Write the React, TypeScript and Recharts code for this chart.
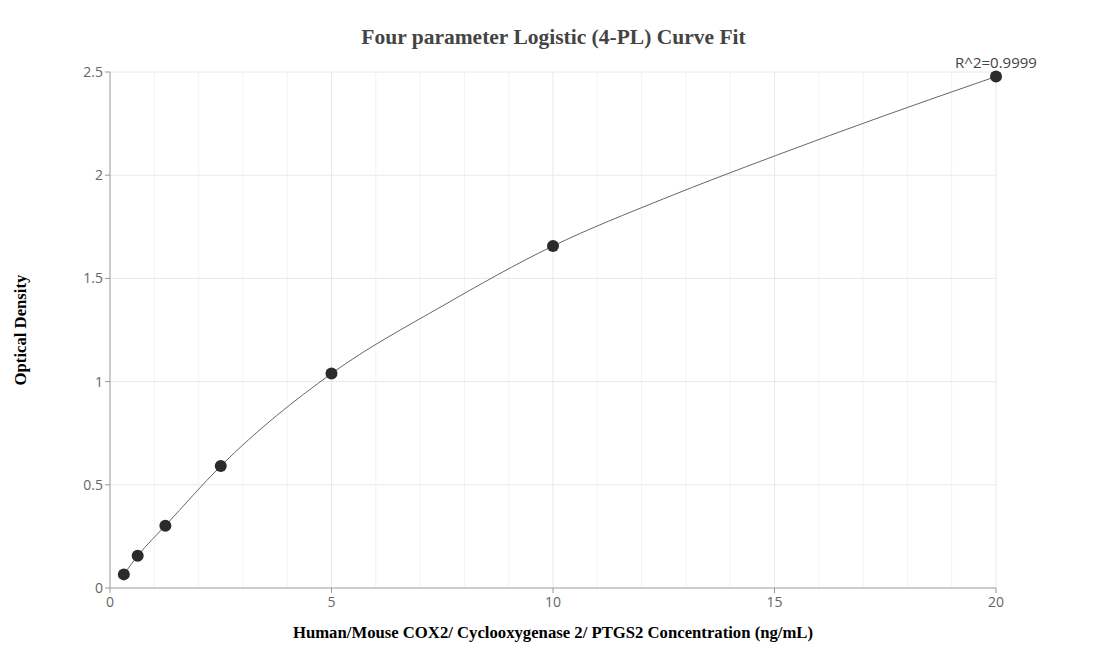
import React from 'react';
import {
  ComposedChart,
  Line,
  Scatter,
  XAxis,
  YAxis,
  ReferenceLine,
  ReferenceDot,
  Label,
} from 'recharts';

// measured standards
const concentrations = [0.3125, 0.625, 1.25, 2.5, 5, 10, 20];
const densities = [0.066, 0.156, 0.302, 0.591, 1.039, 1.657, 2.478];
// fitted curve
const fitX = [0.3125, 0.625, 1.25, 2.5, 5, 7.5, 10, 12.5, 15, 17.5, 20];
const fitY = [0.066, 0.156, 0.302, 0.591, 1.039, 1.366, 1.657, 1.886, 2.093, 2.29, 2.478];
const xTicks = [0, 5, 10, 15, 20];
const yTicks = [0, 0.5, 1, 1.5, 2, 2.5];
const minorX = [1, 2, 3, 4, 6, 7, 8, 9, 11, 12, 13, 14, 16, 17, 18, 19];
const rSquared = 'R^2=0.9999';

const points = concentrations.map((c, i) => ({ x: c, y: densities[i] }));
const curve = fitX.map((c, i) => ({ x: c, y: fitY[i] }));

const tickStyle = { fontFamily: 'Open Sans', fontSize: 14, fill: '#666' };
const axisTitle = {
  fontFamily: 'Liberation Serif',
  fontWeight: 'bold',
  fontSize: 16.7,
  fill: '#000',
};

function App() {
  return (
    <div style={{ width: 1091, height: 656, position: 'relative' }}>
      <div
        style={{
          position: 'absolute',
          top: 17,
          width: 1091,
          left: 0,
          textAlign: 'center',
          fontFamily: 'Liberation Serif',
          fontWeight: 'bold',
          fontSize: 21.5,
          color: '#444',
        }}
      >
        Four parameter Logistic (4-PL) Curve Fit
      </div>
      <ComposedChart
        width={1091}
        height={656}
        margin={{ top: 64, right: 103, left: 42, bottom: 46 }}
      >
        {minorX.map((v) => (
          <ReferenceLine key={'m' + v} x={v} stroke="#f3f3f7" strokeWidth={1} />
        ))}
        {xTicks.slice(1).map((v) => (
          <ReferenceLine key={'M' + v} x={v} stroke="#e6e8f0" strokeWidth={1} />
        ))}
        {yTicks.slice(1).map((v) => (
          <ReferenceLine key={'h' + v} y={v} stroke="#e6e8f0" strokeWidth={1} />
        ))}
        <XAxis
          dataKey="x"
          type="number"
          domain={[0, 20]}
          ticks={xTicks}
          tick={tickStyle}
          tickLine={{ stroke: '#999' }}
          axisLine={{ stroke: '#999' }}
          tickSize={5}
          tickMargin={4}
          height={30}
          allowDuplicatedCategory={false}
        >
          <Label
            value="Human/Mouse COX2/ Cyclooxygenase 2/ PTGS2 Concentration (ng/mL)"
            position="bottom"
            offset={8}
            style={axisTitle}
          />
        </XAxis>
        <YAxis
          dataKey="y"
          type="number"
          domain={[0, 2.5]}
          ticks={yTicks}
          tick={tickStyle}
          tickLine={{ stroke: '#999' }}
          axisLine={{ stroke: '#999' }}
          tickSize={5}
          width={60}
        >
          <Label
            value="Optical Density"
            angle={-90}
            position="left"
            offset={30}
            style={{ ...axisTitle, textAnchor: 'middle' }}
          />
        </YAxis>
        <Line
          data={curve}
          dataKey="y"
          type="monotone"
          stroke="#666"
          strokeWidth={1}
          dot={false}
          activeDot={false}
          isAnimationActive={false}
        />
        <Scatter
          data={points}
          dataKey="y"
          fill="#2b2b2b"
          shape={(p: any) => <circle cx={p.cx} cy={p.cy} r={6} fill="#2b2b2b" />}
          isAnimationActive={false}
        />
        <ReferenceDot
          x={concentrations[concentrations.length - 1]}
          y={densities[densities.length - 1]}
          r={0}
          stroke="none"
          fill="none"
        >
          <Label
            value={rSquared}
            position="top"
            offset={9}
            style={{ fontFamily: 'Open Sans', fontSize: 15, fill: '#444' }}
          />
        </ReferenceDot>
      </ComposedChart>
    </div>
  );
}

export default App;
